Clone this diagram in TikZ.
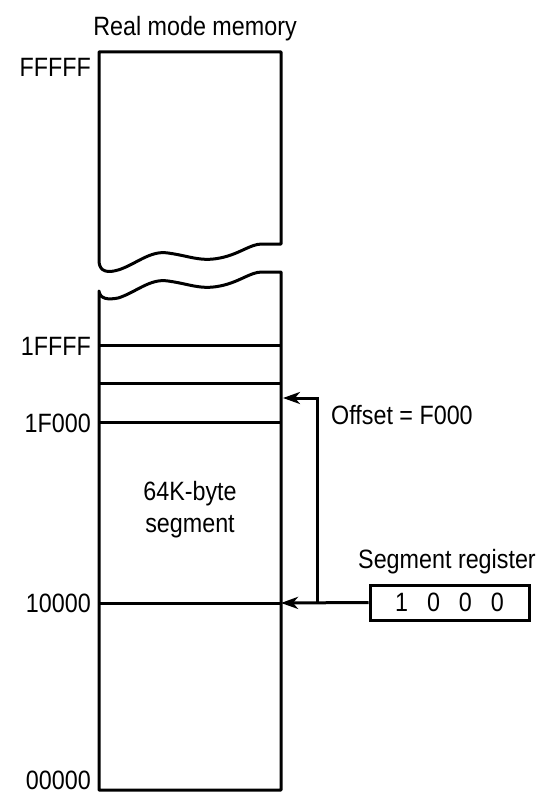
\documentclass[tikz,border=0pt]{standalone}
\usepackage{fontspec}
\setmainfont{Liberation Sans}[FakeStretch=0.88]
\usetikzlibrary{arrows.meta}
\begin{document}
\begin{tikzpicture}[x=1pt,y=-1pt,
  mem/.style={line width=3pt, line join=round},
  lbl/.style={inner sep=0pt, font=\fontsize{26.5}{30}\selectfont},
  addr/.style={lbl, anchor=east},
  arr/.style={line width=3pt, -{Stealth[length=17pt,width=12pt,inset=5pt]}}]
\useasboundingbox (0,0) rectangle (549,794);
% memory column corners
\coordinate (tl) at (99,52);
\coordinate (tr) at (281,52);
\coordinate (ul) at (99,262);
\coordinate (ur) at (281,244);
\coordinate (ll) at (99,291);
\coordinate (lr) at (281,272);
\coordinate (bl) at (99,790);
\coordinate (br) at (281,790);
% upper piece
\draw[mem] (ul) -- (tl) -- (tr) -- (ur) -- (262,244)
  .. controls (250,244) and (240,254) .. (220,258)
  .. controls (200,262) and (190,256) .. (168,253)
  .. controls (150,250) and (135,265) .. (118,270)
  .. controls (108,273) and (100,272) .. (ul);
% lower piece
\draw[mem] (ll) .. controls (100,299) and (108,300) .. (118,298)
  .. controls (135,293) and (150,278) .. (168,281)
  .. controls (190,284) and (200,290) .. (220,286)
  .. controls (240,282) and (250,272) .. (262,272)
  -- (lr) -- (br) -- (bl) -- cycle;
% horizontal lines
\coordinate (a1l) at (99,345);  \coordinate (a1r) at (281,345);
\coordinate (a2l) at (99,383);  \coordinate (a2r) at (281,383);
\coordinate (a3l) at (99,422);  \coordinate (a3r) at (281,422);
\coordinate (a4l) at (99,603);  \coordinate (a4r) at (281,603);
\draw[mem] (a1l) -- (a1r);
\draw[mem] (a2l) -- (a2r);
\draw[mem] (a3l) -- (a3r);
\draw[mem] (a4l) -- (a4r);
% labels
\node[lbl] (title) at (195,29) {Real mode memory};
\node[addr] (fffff) at (91,67) {FFFFF};
\node[addr] (l1ffff) at (91,346) {1FFFF};
\node[addr] (l1f000) at (91,423) {1F000};
\node[addr] (l10000) at (91,603) {10000};
\node[addr] (l00000) at (91,780) {00000};
\node[lbl, align=center, font=\fontsize{26.5}{32}\selectfont] (seg) at (190,510) {64K-byte\\segment};
% register
\node[draw, line width=3pt, minimum width=159pt, minimum height=35pt, inner sep=0pt,
  font=\fontsize{26.5}{30}\selectfont] (reg) at (449.5,602.5) {1\hspace{19pt}0\hspace{19pt}0\hspace{19pt}0};
\node[lbl] (regl) at (447,562) {Segment register};
% arrows
\coordinate (j) at (317,603);
\coordinate (jt) at (317,398);
\coordinate (tgt) at (283,398);
\draw[arr] (reg.west) -- (a4r);
\draw[arr] (j) -- (jt) -- (tgt);
\node[lbl, anchor=west] (off) at (331,415) {Offset = F000};
\end{tikzpicture}
\end{document}
